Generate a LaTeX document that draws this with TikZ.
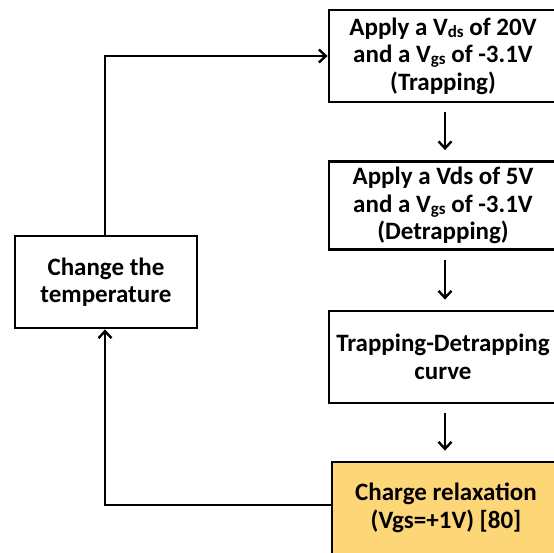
\documentclass[tikz,border=0pt]{standalone}
\usepackage{fontspec}
\setmainfont{Carlito}
\usepackage{tikz}
\usetikzlibrary{arrows.meta,positioning}
\definecolor{RelaxGold}{HTML}{FCD677}
\newcommand{\lowsub}[1]{\raisebox{-2pt}{\fontsize{17}{17}\selectfont #1}}

\begin{document}
\begin{tikzpicture}[
  x=1pt, y=-1pt,
  box/.style={draw=black, line width=2.8pt, fill=#1, minimum width=228pt, minimum height=92pt,
    align=center, inner sep=0pt, font=\fontsize{25}{27.5}\selectfont\bfseries},
  box/.default=white,
  arrow/.style={-{Straight Barb[length=7pt,width=13pt,line width=2.4pt]}, line width=2.4pt}
]
\useasboundingbox (0,0) rectangle (554,552);

\node[box] (trap) at (443,56) {Apply a V\lowsub{ds} of 20V\\and a V\lowsub{gs} of -3.1V\\(Trapping)};
\node[box, minimum height=88pt] (detrap) at (443,205.5) {Apply a Vds of 5V\\and a V\lowsub{gs} of -3.1V\\(Detrapping)};
\node[box] (curve) at (443,357) {Trapping-Detrapping\\curve};
\node[box=RelaxGold] (relax) at (446,508) {Charge relaxation\\(Vgs=+1V) [80]};
\node[box, minimum width=182pt] (temp) at (106,282) {Change the\\temperature};

\draw[arrow, shorten <=9pt, shorten >=10pt] (trap.south -| 445,0) -- (detrap.north -| 445,0);
\draw[arrow, shorten <=9pt, shorten >=10pt] (detrap.south -| 445,0) -- (curve.north -| 445,0);
\draw[arrow, shorten <=9pt, shorten >=10pt] (curve.south -| 445,0) -- (relax.north -| 445,0);
\draw[arrow] (temp.north -| 105,0) |- (trap.west);
\draw[arrow] (relax.west |- 0,505) -| (temp.south -| 105,0);
\end{tikzpicture}
\end{document}
